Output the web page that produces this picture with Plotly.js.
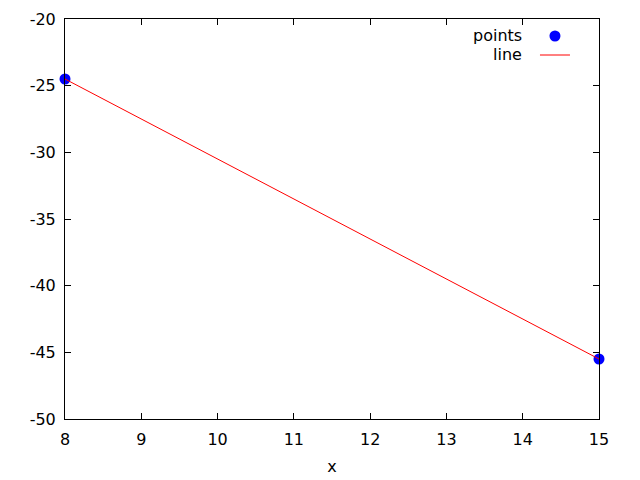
<!DOCTYPE html>
<html>
<head>
<meta charset="utf-8">
<script src="https://cdn.plot.ly/plotly-3.0.1.min.js"></script>
<style>html,body{margin:0;padding:0;background:#fff;}#chart{width:640px;height:480px;}</style>
</head>
<body>
<div id="chart"></div>
<script>
const xValues = [8, 15];
const pointValues = [-24.5, -45.5];
const lineValues = [-24.5, -45.5];
const legendLabels = ["points", "line"];
const xTickVals = [8, 9, 10, 11, 12, 13, 14, 15];
const xTickText = ["8", "9", "10", "11", "12", "13", "14", "15"];
const yTickVals = [-50, -45, -40, -35, -30, -25, -20];
const yTickText = ["-50", "-45", "-40", "-35", "-30", "-25", "-20"];

const font = {family: "DejaVu Sans, sans-serif", size: 16, color: "#000"};

const traces = [
  {x: xValues, y: pointValues, mode: "markers", type: "scatter", name: "",
   marker: {color: "#0000ff", size: 11}, cliponaxis: false},
  {x: xValues, y: lineValues, mode: "lines", type: "scatter", name: "",
   line: {color: "#ff0000", width: 1}, cliponaxis: false}
];

const axisCommon = {
  showline: true, mirror: "ticks", linecolor: "#000", linewidth: 1,
  ticks: "inside", ticklen: 6, tickcolor: "#000", tickwidth: 1,
  showgrid: false, zeroline: false, tickfont: font, tickmode: "array"
};

const layout = {
  width: 640, height: 480,
  margin: {l: 65, r: 41, t: 19, b: 61},
  paper_bgcolor: "#fff", plot_bgcolor: "#fff",
  font: font,
  showlegend: true,
  legend: {x: 0.8801, y: 0.99375, xanchor: "left", yanchor: "top", bgcolor: "rgba(0,0,0,0)",
    font: {family: "DejaVu Sans, sans-serif", size: 12, color: "#000"}, tracegroupgap: 0},
  xaxis: Object.assign({}, axisCommon, {range: [8, 15], tickvals: xTickVals, ticktext: xTickText,
    ticklabelstandoff: 6, title: {text: "x", font: font, standoff: 12}}),
  yaxis: Object.assign({}, axisCommon, {range: [-50, -20], tickvals: yTickVals, ticktext: yTickText,
    ticklabelstandoff: 5}),
  annotations: [
    {xref: "paper", yref: "paper", x: 0.8596, y: 0.9575, xanchor: "right", yanchor: "middle", text: legendLabels[0], showarrow: false, font: font},
    {xref: "paper", yref: "paper", x: 0.8596, y: 0.91, xanchor: "right", yanchor: "middle", text: legendLabels[1], showarrow: false, font: font}
  ]
};

Plotly.newPlot("chart", traces, layout, {staticPlot: true});
</script>
</body>
</html>
